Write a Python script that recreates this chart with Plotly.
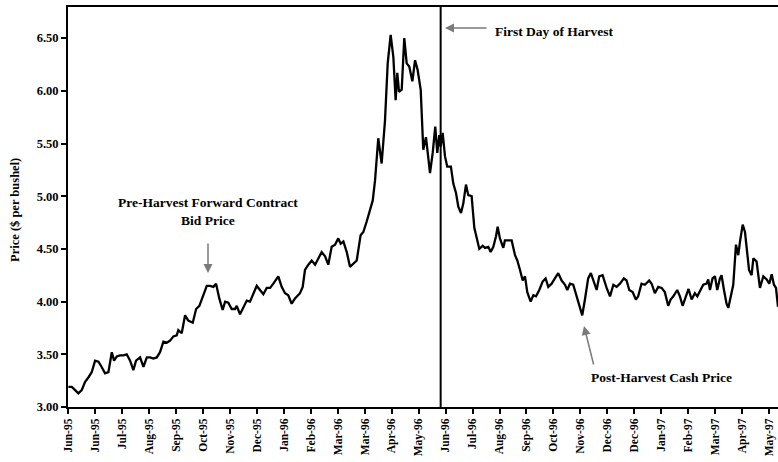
import plotly.graph_objects as go

# trading-day index (20 trading days per axis tick) and price ($ per bushel)
day = [0.0, 2.5, 5.0, 7.4, 9.9, 12.4, 14.8, 17.3, 19.8, 22.3, 24.7, 27.2, 29.7, 32.2, 33.9, 35.9,
       38.4, 40.8, 43.3, 45.8, 48.2, 50.2, 53.2, 55.7, 58.2, 60.6, 63.1, 65.6, 68.0, 70.5, 73.0,
       75.5, 77.9, 80.4, 81.6, 84.1, 86.6, 89.0, 92.3, 94.8, 97.2, 99.7, 102.7, 105.1, 107.6,
       109.6, 112.0, 114.5, 116.3, 118.7, 121.2, 123.7, 124.9, 127.4, 129.9, 132.4, 134.8,
       137.3, 139.8, 142.2, 144.7, 147.2, 149.7, 152.1, 155.8, 158.3, 160.8, 163.2, 165.7,
       168.2, 171.9, 173.9, 175.6, 178.1, 180.6, 183.1, 185.5, 188.0, 190.5, 192.9, 195.4,
       197.9, 200.3, 202.1, 204.1, 206.6, 209.0, 211.5, 214.0, 216.9, 218.9, 221.4, 223.4,
       225.9, 227.6, 230.0, 232.5, 235.0, 237.0, 239.2, 241.2, 242.9, 244.1, 245.4, 247.4,
       249.3, 251.1, 253.0, 255.3, 257.3, 259.2, 261.5, 263.4, 265.4, 268.4, 270.4, 272.3,
       273.8, 275.3, 276.3, 277.8, 279.5, 281.2, 283.9, 285.7, 287.7, 289.4, 291.4, 293.1,
       295.1, 296.8, 299.3, 301.3, 303.0, 305.0, 307.5, 309.2, 311.7, 313.4, 315.4, 317.4,
       318.6, 320.3, 322.8, 324.0, 326.5, 329.0, 331.5, 333.2, 335.2, 337.2, 338.9, 340.6,
       343.1, 345.1, 347.1, 349.5, 352.0, 354.2, 356.2, 358.7, 361.1, 363.6, 366.1, 368.6,
       370.3, 372.3, 374.7, 377.2, 379.7, 381.4, 383.4, 385.8, 387.8, 390.1, 392.1, 394.0,
       396.5, 399.5, 402.0, 404.5, 406.9, 409.4, 412.3, 414.3, 416.3, 418.8, 421.2, 422.9,
       425.4, 427.9, 431.1, 432.9, 435.3, 437.8, 440.3, 442.7, 445.2, 447.0, 449.0, 451.9,
       453.9, 455.9, 458.3, 460.3, 462.6, 465.0, 466.8, 468.7, 471.2, 473.7, 474.9, 476.2,
       478.1, 479.9, 481.6, 483.6, 484.8, 486.6, 488.5, 489.8, 491.5, 493.5, 495.5, 497.2,
       498.5, 500.5, 502.2, 503.4, 505.2, 507.1, 508.4, 510.8, 513.3, 515.8, 518.3, 520.2,
       522.0, 523.7, 525.2, 526.7]
price = [3.19, 3.19, 3.16, 3.13, 3.16, 3.24, 3.28, 3.33, 3.44, 3.43, 3.38, 3.32, 3.33, 3.52, 3.44, 3.48,
         3.49, 3.49, 3.50, 3.44, 3.35, 3.44, 3.47, 3.38, 3.47, 3.47, 3.46, 3.47, 3.52, 3.62, 3.61,
         3.63, 3.67, 3.68, 3.73, 3.70, 3.87, 3.82, 3.80, 3.93, 3.96, 4.04, 4.15, 4.15, 4.14,
         4.17, 4.03, 3.92, 4.00, 3.99, 3.93, 3.93, 3.96, 3.88, 3.95, 4.01, 4.00,
         4.08, 4.15, 4.11, 4.07, 4.13, 4.13, 4.17, 4.24, 4.14, 4.08, 4.06, 3.98,
         4.03, 4.08, 4.14, 4.30, 4.35, 4.39, 4.35, 4.41, 4.47, 4.43, 4.35, 4.52,
         4.54, 4.60, 4.55, 4.57, 4.47, 4.33, 4.36, 4.39, 4.63, 4.66, 4.76, 4.85,
         4.96, 5.15, 5.55, 5.31, 5.72, 6.26, 6.53, 6.32, 5.91, 6.17, 5.99, 6.01,
         6.50, 6.26, 6.23, 6.09, 6.29, 6.20, 6.01, 5.44, 5.56, 5.22, 5.41, 5.66,
         5.41, 5.58, 5.47, 5.60, 5.38, 5.28, 5.28, 5.12, 5.03, 4.90, 4.84, 4.93,
         5.11, 5.01, 5.00, 4.70, 4.62, 4.50, 4.53, 4.51, 4.52, 4.47, 4.52, 4.62,
         4.71, 4.60, 4.51, 4.58, 4.58, 4.58, 4.44, 4.39, 4.30, 4.20, 4.24, 4.09,
         4.00, 4.06, 4.05, 4.11, 4.19, 4.22, 4.14, 4.17, 4.22, 4.27, 4.20, 4.16,
         4.11, 4.17, 4.16, 4.05, 3.92, 3.87, 4.02, 4.22, 4.27, 4.19, 4.11, 4.24,
         4.25, 4.13, 4.05, 4.16, 4.14, 4.17, 4.22, 4.20, 4.11, 4.09, 4.02, 4.05,
         4.17, 4.16, 4.20, 4.17, 4.08, 4.14, 4.13, 4.09, 3.96, 4.02, 4.05, 4.11,
         4.05, 3.96, 4.05, 4.12, 4.02, 4.08, 4.05, 4.10, 4.16, 4.17, 4.21, 4.11,
         4.22, 4.24, 4.11, 4.22, 4.25, 4.11, 3.98, 3.94, 4.05, 4.16, 4.54, 4.44,
         4.57, 4.73, 4.66, 4.49, 4.30, 4.25, 4.41, 4.38, 4.13, 4.24, 4.21, 4.17,
         4.26, 4.16, 4.13, 3.95]

tick_days = list(range(0, 521, 20))
tick_labels = ["Jun-95", "Jun-95", "Jul-95", "Aug-95", "Sep-95", "Oct-95", "Nov-95", "Dec-95",
               "Jan-96", "Feb-96", "Mar-96", "Mar-96", "Apr-96", "May-96", "Jun-96", "Jul-96",
               "Aug-96", "Sep-96", "Oct-96", "Nov-96", "Dec-96", "Dec-96", "Jan-97", "Feb-97",
               "Mar-97", "Apr-97", "May-97"]
y_ticks = [3.0, 3.5, 4.0, 4.5, 5.0, 5.5, 6.0, 6.5]
harvest_day = 276.3

FONT = "Liberation Serif"
bold = dict(family=FONT, size=12, color="black", weight="bold")

fig = go.Figure()
fig.add_trace(go.Scatter(x=day, y=price, mode="lines",
                         line=dict(color="black", width=2.3), showlegend=False,
                         hoverinfo="skip"))

fig.add_shape(type="line", xref="x", yref="paper", x0=harvest_day, x1=harvest_day,
              y0=0, y1=1, line=dict(color="black", width=2))

fig.update_layout(
    width=778, height=462,
    margin=dict(l=68, r=0, t=7, b=55, autoexpand=False),
    paper_bgcolor="white", plot_bgcolor="white",
    font=bold,
    xaxis=dict(range=[-0.3, 526.7], tickvals=tick_days, ticktext=tick_labels,
               tickangle=-90, ticks="outside", ticklen=5, tickwidth=1.5,
               tickcolor="black", showline=True, linecolor="black", linewidth=2,
               mirror=True, showgrid=False, zeroline=False, automargin=False,
               tickfont=dict(family=FONT, size=11.5, color="black", weight="bold")),
    yaxis=dict(range=[3.0, 6.795], tickvals=y_ticks, tickformat=".2f",
               ticks="outside", ticklen=5, tickwidth=1.5, tickcolor="black",
               showline=True, linecolor="black", linewidth=2, showgrid=False,
               zeroline=False, automargin=False,
               tickfont=dict(family=FONT, size=12.5, color="black", weight="bold")),
)

W, H = 710, 400
def px(xp):
    return (xp - 68) / W
def py(yp):
    return 1 - (yp - 7) / H

ann_font = dict(family=FONT, size=13.5, color="black", weight="bold")
txt = dict(xref="paper", yref="paper", showarrow=False, xanchor="center",
           yanchor="middle", font=ann_font, align="center")
fig.add_annotation(x=px(208), y=py(211), text="Pre-Harvest Forward Contract<br>Bid Price", **txt)
fig.add_annotation(x=px(554), y=py(31), text="First Day of Harvest", **txt)
fig.add_annotation(x=px(661), y=py(377), text="Post-Harvest Cash Price", **txt)

# arrows
gray = "#7a7a7a"
arrow = dict(xref="paper", yref="paper", axref="pixel", ayref="pixel", text="",
             showarrow=True, arrowhead=2, arrowsize=1.2, arrowwidth=1.5,
             arrowcolor=gray, standoff=0, startstandoff=0)
fig.add_annotation(x=px(208), y=py(273), ax=0, ay=-31, **arrow)
fig.add_annotation(x=px(445), y=py(28), ax=43, ay=0, **arrow)
fig.add_annotation(x=px(584), y=py(326), ax=10, ay=40, **arrow)

fig.add_annotation(x=px(15), y=py(210), xref="paper", yref="paper", showarrow=False,
                   xanchor="center", yanchor="middle",
                   text="Price ($ per bushel)", textangle=-90,
                   font=dict(family=FONT, size=12.5, color="black", weight="bold"))

fig.write_html("out.html", config={"displayModeBar": False},
               post_script="document.body.style.margin='0';document.body.style.overflow='hidden';")
